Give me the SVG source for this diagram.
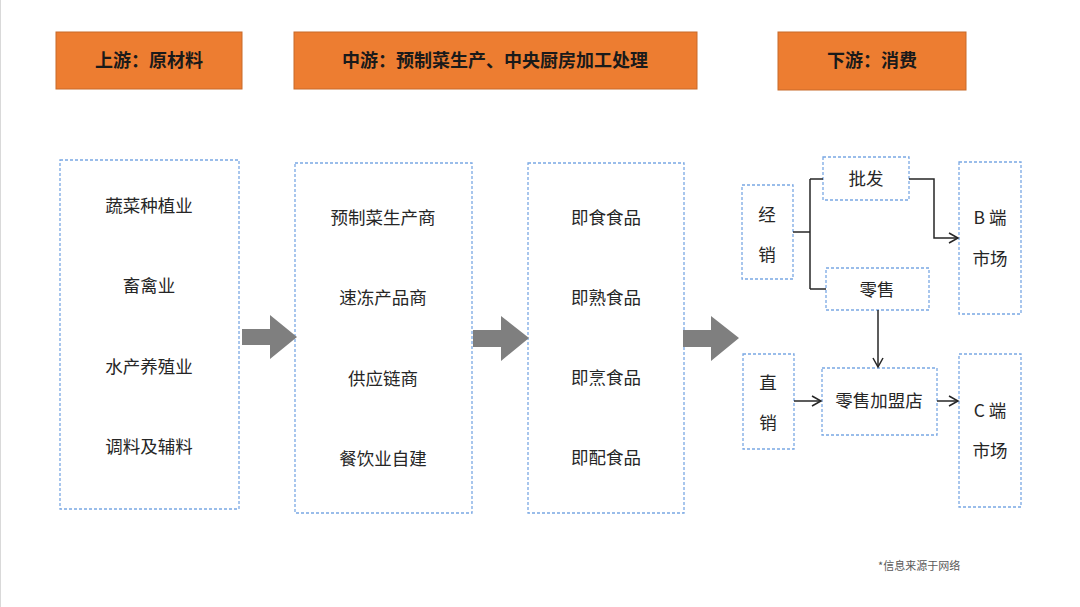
<svg xmlns="http://www.w3.org/2000/svg" width="1080" height="607" viewBox="0 0 1080 607">
<style>
.hdr{fill:#ED7D31;stroke:#C86A2A;stroke-width:1}
.ht{font-family:"Noto Sans CJK SC","Noto Sans",sans-serif;font-size:18px;font-weight:bold;fill:#1a1a1a;text-anchor:middle}
.box{fill:#fff;stroke:#7AA8E4;stroke-width:1.3;stroke-dasharray:3,2}
.t{font-family:"Noto Sans CJK SC","Noto Sans",sans-serif;font-size:17.5px;fill:#262626;text-anchor:middle}
.big{fill:#7F7F7F}
.ln{fill:none;stroke:#262626;stroke-width:1.5}
.note{font-family:"Noto Sans CJK SC","Noto Sans",sans-serif;font-size:11px;fill:#595959}
</style>
<defs>
<marker id="ah" markerWidth="12" markerHeight="12" refX="10" refY="6" orient="auto" markerUnits="userSpaceOnUse">
<path d="M1,1 L10,6 L1,11" fill="none" stroke="#262626" stroke-width="1.5"/>
</marker>
</defs>
<rect width="1080" height="607" fill="#fff"/>
<line x1="0.5" y1="0" x2="0.5" y2="607" stroke="#d9d9d9" stroke-width="1"/>

<g id="hdr-up"><rect class="hdr" x="56" y="32" width="186" height="57"/><text class="ht" x="149" y="67">上游：原材料</text></g>
<g id="hdr-mid"><rect class="hdr" x="294" y="32" width="403" height="57"/><text class="ht" x="495" y="67">中游：预制菜生产、中央厨房加工处理</text></g>
<g id="hdr-down"><rect class="hdr" x="778" y="32" width="188" height="58"/><text class="ht" x="872" y="67">下游：消费</text></g>

<g id="col1"><rect class="box" x="60" y="160" width="179" height="349"/>
<text class="t" x="149" y="212">蔬菜种植业</text>
<text class="t" x="149" y="292">畜禽业</text>
<text class="t" x="149" y="373">水产养殖业</text>
<text class="t" x="149" y="453">调料及辅料</text></g>

<g id="col2"><rect class="box" x="295" y="163" width="177" height="350"/>
<text class="t" x="383" y="224">预制菜生产商</text>
<text class="t" x="383" y="304">速冻产品商</text>
<text class="t" x="383" y="385">供应链商</text>
<text class="t" x="383" y="465">餐饮业自建</text></g>

<g id="col3"><rect class="box" x="528" y="163" width="156" height="350"/>
<text class="t" x="606" y="224">即食食品</text>
<text class="t" x="606" y="304">即熟食品</text>
<text class="t" x="606" y="384">即烹食品</text>
<text class="t" x="606" y="464">即配食品</text></g>

<g id="jingxiao"><rect class="box" x="742" y="185" width="51" height="94"/>
<text class="t" x="767" y="221">经</text><text class="t" x="767" y="261">销</text></g>
<g id="pifa"><rect class="box" x="823" y="157" width="86" height="43"/>
<text class="t" x="866" y="185">批发</text></g>
<g id="lingshou"><rect class="box" x="826" y="268" width="103" height="42"/>
<text class="t" x="877" y="296">零售</text></g>
<g id="bmarket"><rect class="box" x="959" y="162" width="62" height="152"/>
<text class="t" x="990" y="224">B 端</text><text class="t" x="990" y="265">市场</text></g>
<g id="zhixiao"><rect class="box" x="743" y="354" width="51" height="95"/>
<text class="t" x="768" y="389">直</text><text class="t" x="768" y="429">销</text></g>
<g id="franchise"><rect class="box" x="822" y="368" width="115" height="67"/>
<text class="t" x="879" y="407">零售加盟店</text></g>
<g id="cmarket"><rect class="box" x="959" y="354" width="62" height="153"/>
<text class="t" x="990" y="417">C 端</text><text class="t" x="990" y="457">市场</text></g>

<g id="connectors">
<path class="big" d="M242,329 H270 V315 L297,337 L270,359 V345 H242 Z"/>
<path class="big" d="M473,330 H501 V316 L529,338 L501,361 V347 H473 Z"/>
<path class="big" d="M683,330 H711 V316 L739,338 L711,361 V347 H683 Z"/>
<path class="ln" d="M793,232 H810"/>
<path class="ln" d="M810,179 V289"/>
<path class="ln" d="M810,179 H823"/>
<path class="ln" d="M810,289 H826"/>
<path class="ln" d="M909,179 H934 V238 H958" marker-end="url(#ah)"/>
<path class="ln" d="M878,310 V367" marker-end="url(#ah)"/>
<path class="ln" d="M794,401 H821" marker-end="url(#ah)"/>
<path class="ln" d="M937,401 H958" marker-end="url(#ah)"/>
</g>
<text class="note" x="878" y="570">*信息来源于网络</text>
</svg>
